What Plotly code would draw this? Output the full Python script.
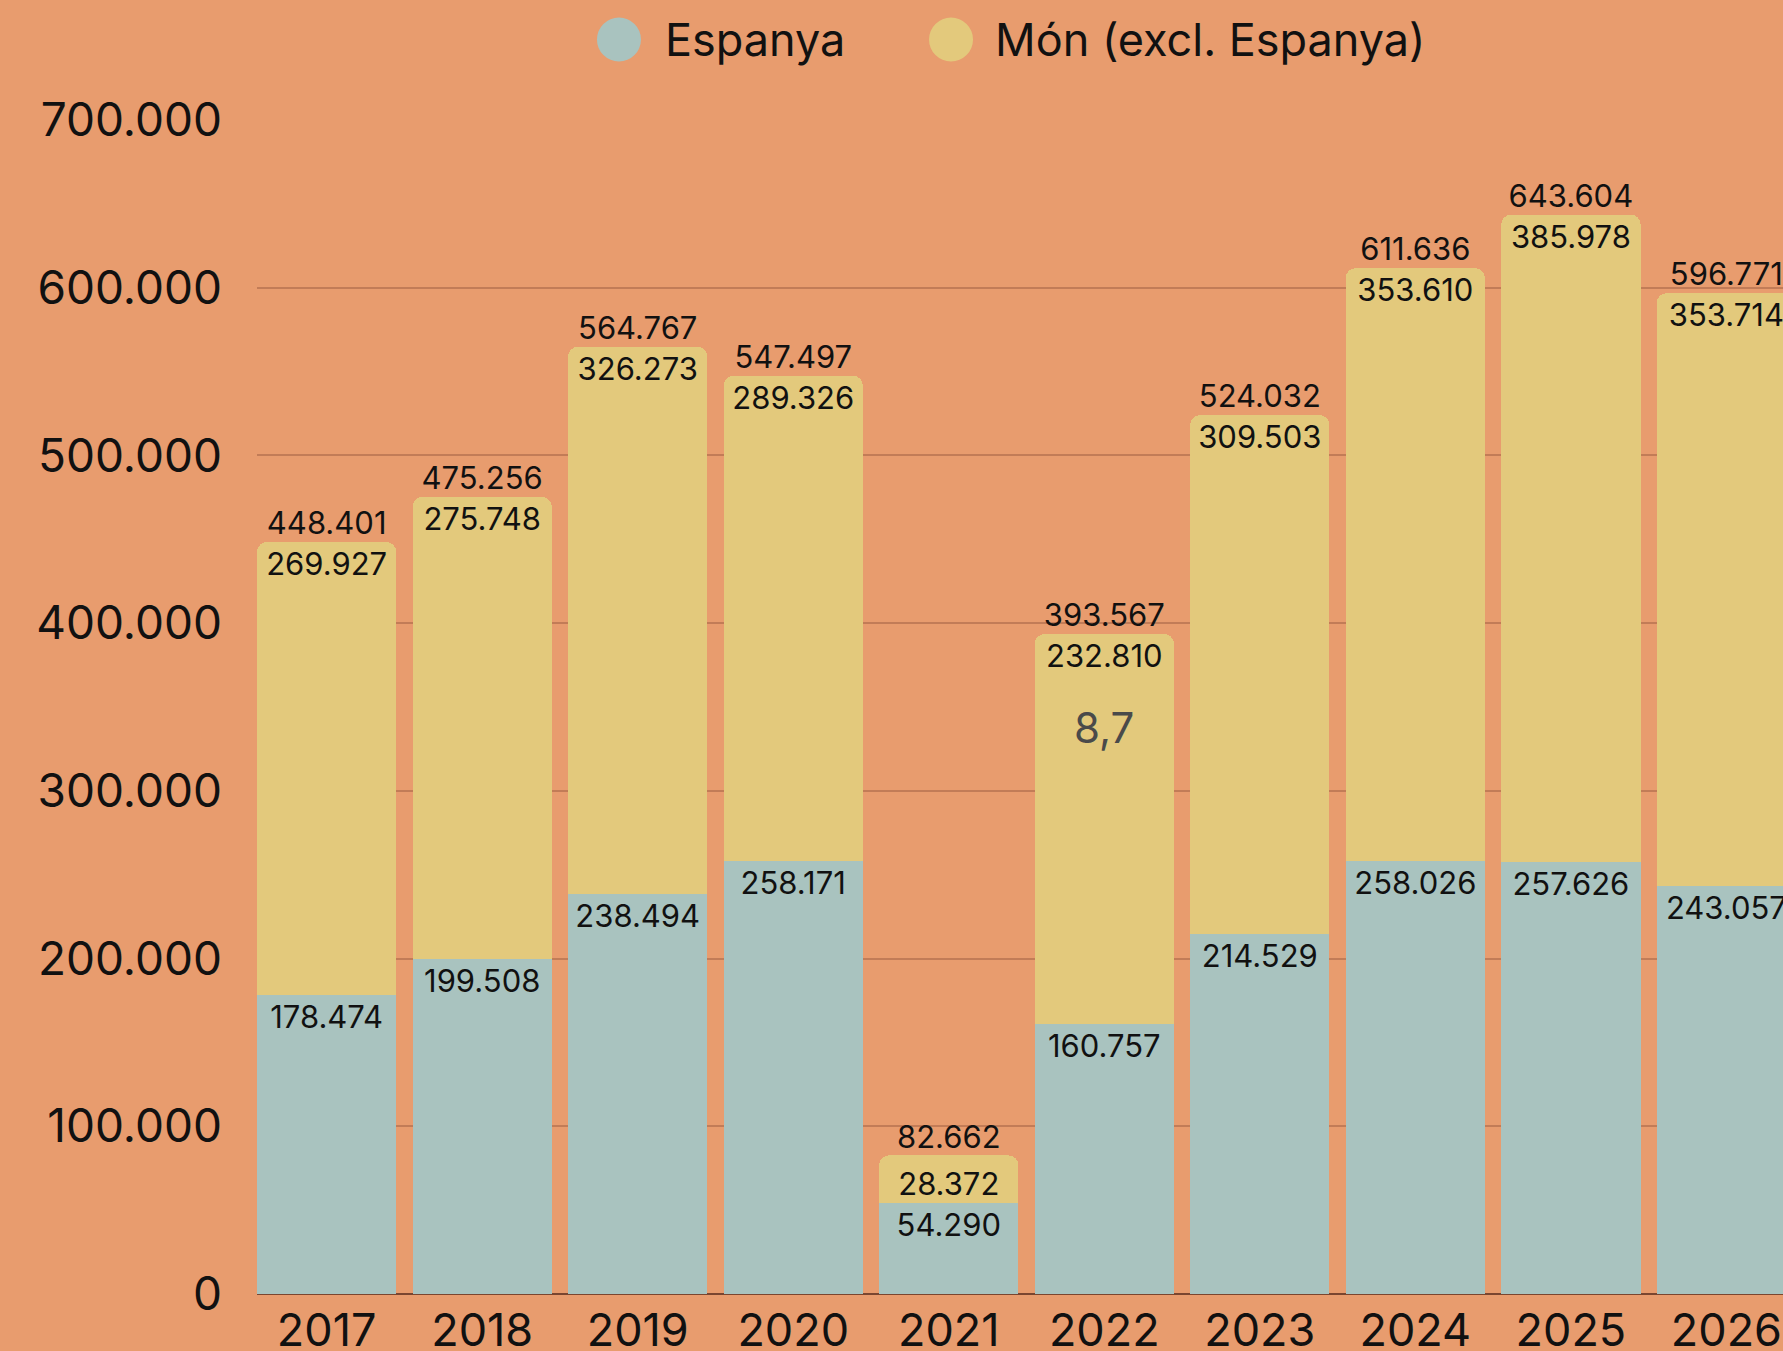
import plotly.graph_objects as go

years = ["2017", "2018", "2019", "2020", "2021", "2022", "2023", "2024", "2025", "2026"]
espanya = [178474, 199508, 238494, 258171, 54290, 160757, 214529, 258026, 257626, 243057]
mon = [269927, 275748, 326273, 289326, 28372, 232810, 309503, 353610, 385978, 353714]
totals = [a + b for a, b in zip(espanya, mon)]
y_ticks = [0, 100000, 200000, 300000, 400000, 500000, 600000, 700000]
series_names = ["Espanya", "Món (excl. Espanya)"]
note_text = "8,7"
note_year = "2022"
note_value = 338000

BG = "#E89C6E"
TEAL = "#A9C3BF"
YELLOW = "#E3C97C"
GRID = "#C27C57"
AXIS = "#7A4630"
FONT = "Inter, Lato, sans-serif"

fig = go.Figure()
fig.add_trace(go.Bar(
    x=years, y=espanya, name=series_names[0], marker=dict(color=TEAL, line=dict(width=0)),
    texttemplate="%{y:,}", textposition="inside", insidetextanchor="end", textangle=0,
    textfont=dict(family=FONT, size=31, color="#111111"), showlegend=False,
))
fig.add_trace(go.Bar(
    x=years, y=mon, name=series_names[1], marker=dict(color=YELLOW, line=dict(width=0)),
    texttemplate="%{y:,}", textposition="inside", insidetextanchor="end", textangle=0,
    textfont=dict(family=FONT, size=31, color="#111111"), showlegend=False,
))
fig.add_trace(go.Scatter(
    x=years, y=totals, mode="text", texttemplate="%{y:,}", textposition="top center",
    textfont=dict(family=FONT, size=31, color="#111111"), showlegend=False, hoverinfo="skip",
))

fig.add_annotation(x=years.index(note_year), y=note_value, xref="x", yref="y", text=note_text,
                   showarrow=False, font=dict(family=FONT, size=42, color="#4A4A4A"))

# legend (circles + labels)
legend_items = [(series_names[0], TEAL, 0.2372, 0.2661), (series_names[1], YELLOW, 0.4548, 0.4823)]
for name, col, cx, tx in legend_items:
    fig.add_shape(type="circle", xref="paper", yref="paper", xsizemode="pixel", ysizemode="pixel",
                  xanchor=cx, yanchor=1.0686, x0=-22, x1=22, y0=-22, y1=22,
                  fillcolor=col, line=dict(width=0))
    fig.add_annotation(xref="paper", yref="paper", x=tx, y=1.0686, xanchor="left", yanchor="middle",
                       text=name, showarrow=False, font=dict(family=FONT, size=45, color="#111111"))

fig.update_layout(
    width=1783, height=1351,
    paper_bgcolor=BG, plot_bgcolor=BG,
    barmode="stack", bargap=0.104, barcornerradius=10,
    separators=",.",
    margin=dict(l=257, r=0, t=120, b=57, autoexpand=False),
    uniformtext=dict(minsize=31, mode="show"),
    font=dict(family=FONT, color="#111111"),
)
fig.update_xaxes(type="category", range=[-0.448, 9.364], showgrid=False, showline=False,
                 ticks="", tickfont=dict(family=FONT, size=45, color="#111111"),
                 ticklabelstandoff=6, automargin=False)
fig.update_yaxes(range=[0, 700000], tickvals=y_ticks, tickformat=",", showgrid=True,
                 gridcolor=GRID, gridwidth=2, zeroline=True, zerolinecolor=AXIS, zerolinewidth=2,
                 showline=False, ticks="", tickfont=dict(family=FONT, size=46, color="#111111"),
                 ticklabelstandoff=34, automargin=False)

fig.write_html("out.html", config={"displayModeBar": False},
               post_script="document.body.style.margin='0';document.body.style.overflow='hidden';")
